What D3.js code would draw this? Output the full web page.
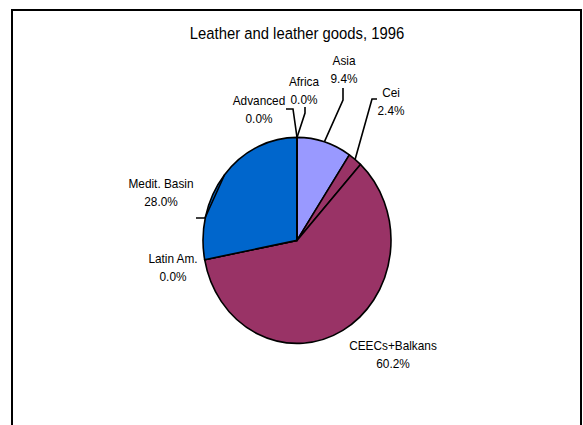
<!DOCTYPE html>
<html>
<head>
<meta charset="utf-8">
<script src="https://cdn.jsdelivr.net/npm/d3@7"></script>
<style>
  html, body { margin: 0; padding: 0; background: #fff; }
  svg { display: block; }
  text { font-family: Arial, "Liberation Sans", sans-serif; fill: #000; }
</style>
</head>
<body>
<svg id="chart" width="583" height="425"></svg>
<script>
// ---- Data ----
const title = "Leather and leather goods, 1996";
const categories = ["Asia", "Cei", "CEECs+Balkans", "Latin Am.", "Medit. Basin", "Advanced", "Africa"];
const values = [9.4, 2.4, 60.2, 0.0, 28.0, 0.0, 0.0];
const colors = ["#9999FF", "#993366", "#993366", "#FFFFCC", "#0066CC", "#CCFFFF", "#660066"];

// ---- Layout ----
const W = 583, H = 425;
const cx = 297, cy = 240.4, R = 100, sx = 0.94, sy = 1.03;
const squeeze = 0.91;
// label layout: centre x, first baseline y, optional leader start + elbow
const labelLayout = {
  "Asia":          { x: 344, y: 65,  leader: [[343, 88], [343, 100]] },
  "Cei":           { x: 391, y: 97,  leader: [[377, 99], [372, 99]] },
  "CEECs+Balkans": { x: 393, y: 350, leader: null },
  "Latin Am.":     { x: 173, y: 263, leader: null },
  "Medit. Basin":  { x: 161, y: 188, leader: [[196, 218], [205, 218]] },
  "Advanced":      { x: 259, y: 105, leader: [[286, 109], [293, 109]] },
  "Africa":        { x: 304, y: 86,  leader: [[305, 107], [305, 113]] }
};

const svg = d3.select("#chart");

// frame
svg.append("rect")
  .attr("x", 12).attr("y", 10)
  .attr("width", 569).attr("height", 440)
  .attr("fill", "#fff").attr("stroke", "#000").attr("stroke-width", 2);

// title
svg.append("text")
  .attr("transform", `translate(297,39) scale(${squeeze},1)`)
  .attr("text-anchor", "middle")
  .attr("font-size", 16.3)
  .text(title);

const data = categories.map((c, i) => ({ name: c, value: values[i], color: colors[i] }));
const pie = d3.pie().sort(null).value(d => d.value).startAngle(0).endAngle(2 * Math.PI);
const arcs = pie(data);
const arc = d3.arc().innerRadius(0).outerRadius(R);

const g = svg.append("g").attr("transform", `translate(${cx},${cy}) scale(${sx},${sy})`);
g.selectAll("path.slice")
  .data(arcs)
  .join("path")
  .attr("class", "slice")
  .attr("d", arc)
  .attr("fill", d => d.data.color)
  .attr("stroke", "#000")
  .attr("stroke-width", 1.6)
  .attr("stroke-linejoin", "round")
  .attr("vector-effect", "non-scaling-stroke");

// edge point of a slice (mid-angle on the ellipse)
function edgePoint(d) {
  const a = (d.startAngle + d.endAngle) / 2;
  return [cx + R * sx * Math.sin(a), cy - R * sy * Math.cos(a)];
}

const fmt = v => v.toFixed(1) + "%";

arcs.forEach(d => {
  const L = labelLayout[d.data.name];
  if (L.leader) {
    const pts = [L.leader[0], L.leader[1], edgePoint(d)];
    svg.append("path")
      .attr("d", d3.line()(pts))
      .attr("fill", "none")
      .attr("stroke", "#000")
      .attr("stroke-width", 1.6);
  }
  const t = svg.append("text")
    .attr("transform", `translate(${L.x},${L.y}) scale(${squeeze},1)`)
    .attr("text-anchor", "middle")
    .attr("font-size", 13);
  t.append("tspan").attr("x", 0).attr("y", 0).text(d.data.name);
  t.append("tspan").attr("x", 0).attr("y", 18).text(fmt(d.data.value));
});
</script>
</body>
</html>
